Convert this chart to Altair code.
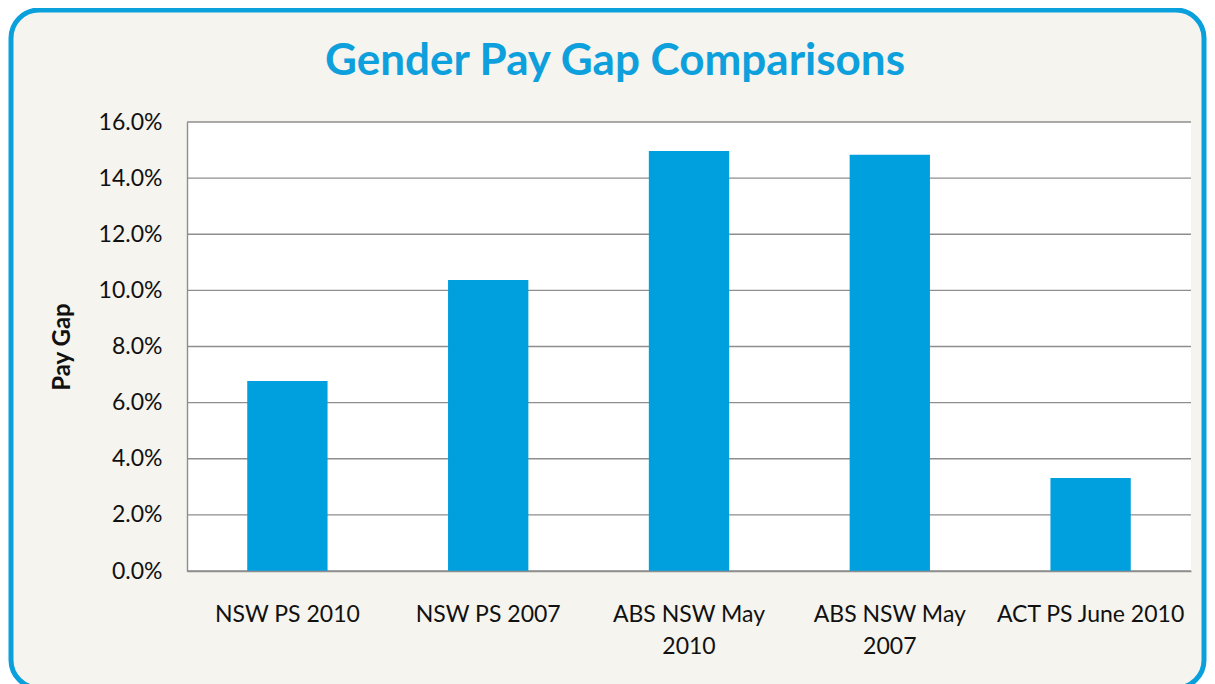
import altair as alt
import pandas as pd

categories = ["NSW PS 2010", "NSW PS 2007", "ABS NSW May 2010", "ABS NSW May 2007", "ACT PS June 2010"]
values = [0.0677, 0.1037, 0.1497, 0.1483, 0.0331]
ticks = [0.0, 0.02, 0.04, 0.06, 0.08, 0.10, 0.12, 0.14, 0.16]
title_text = "Gender Pay Gap Comparisons"

W, H = 1004, 449
BEIGE = "#f5f4ee"
BLUE = "#00a0df"
GRID = "#8e8e8e"
FONT = "Lato"

bars_df = pd.DataFrame({"category": categories, "value": values})
ticks_df = pd.DataFrame({"value": ticks})
one = pd.DataFrame({"t": [title_text]})

y_scale = alt.Scale(domain=[0, 0.16])
y_axis = alt.Axis(
    title="Pay Gap", values=ticks, format=".1%", grid=False, ticks=False,
    domain=True, domainColor=GRID, domainWidth=1.4,
    labelFont=FONT, labelFontSize=23, labelColor="#111", labelPadding=25,
    titleFont=FONT, titleFontSize=24, titleFontWeight="bold", titleColor="#111",
    titleAngle=-90, titleX=-125, titleY=H / 2, titleAlign="center", titleBaseline="middle",
    zindex=1,
)

frame = alt.Chart(one).mark_rect(
    fill=BEIGE, stroke="#0aa0dc", strokeWidth=5, cornerRadius=28
).encode(x=alt.value(-176), x2=alt.value(1017), y=alt.value(-112), y2=alt.value(566))

plotbg = alt.Chart(one).mark_rect(fill="white").encode(
    x=alt.value(0), x2=alt.value(W), y=alt.value(0), y2=alt.value(H)
)

grid = alt.Chart(ticks_df).mark_rule(color=GRID, strokeWidth=1.4).encode(
    y=alt.Y("value:Q", scale=y_scale, axis=y_axis),
    x=alt.value(0), x2=alt.value(W),
)

bars = alt.Chart(bars_df).mark_bar(color=BLUE).encode(
    x=alt.X(
        "category:N", sort=None,
        scale=alt.Scale(paddingInner=0.6, paddingOuter=0.3),
        axis=alt.Axis(
            title=None, labelAngle=0, ticks=False, domain=True, domainColor=GRID, domainWidth=1.4,
            labelFont=FONT, labelFontSize=23, labelColor="#111", labelPadding=32,
            labelLineHeight=32, labelLimit=400, zindex=1,
            labelExpr="length(datum.label) > 15 && indexof(datum.label, 'ABS') == 0 ? [slice(datum.label, 0, 11), slice(datum.label, 12)] : datum.label",
        ),
    ),
    y=alt.Y("value:Q", scale=y_scale, axis=y_axis),
)

title = alt.Chart(one).mark_text(
    font=FONT, fontSize=44, fontWeight="bold", color="#0ea0dc", align="center", baseline="alphabetic"
).encode(x=alt.value(428), y=alt.value(-47), text="t:N")

chart = alt.layer(frame, plotbg, grid, bars, title).properties(
    width=W, height=H,
    autosize=alt.AutoSizeParams(type="none"),
    padding={"left": 179, "top": 114, "right": 16, "bottom": 113},
    background="white",
).configure_view(stroke=None)

chart.save("out.html", embed_options={"renderer": "svg", "actions": False})
